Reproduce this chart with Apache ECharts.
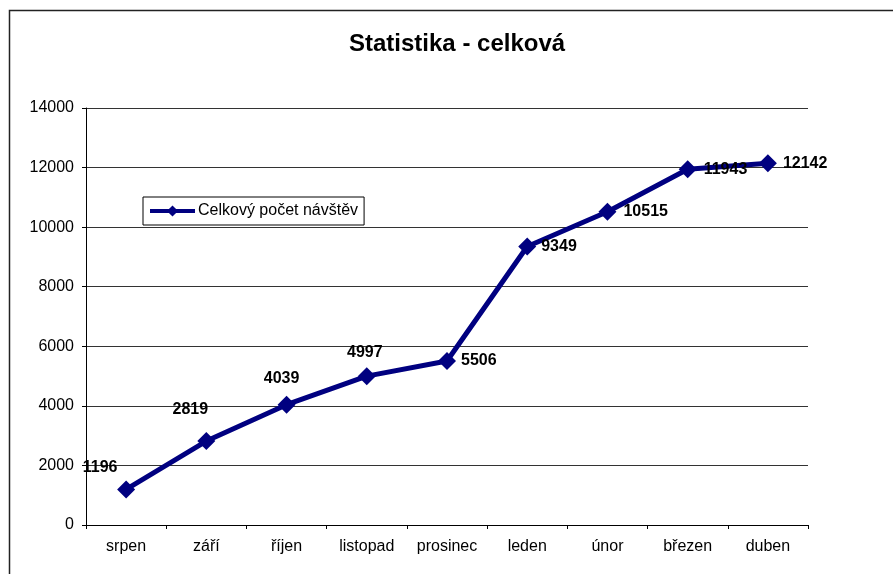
<!DOCTYPE html>
<html>
<head>
<meta charset="utf-8">
<script src="https://cdn.jsdelivr.net/npm/echarts@6/dist/echarts.min.js"></script>
<style>
html,body{margin:0;padding:0;background:#fff;}
#chart{width:893px;height:574px;}
</style>
</head>
<body>
<div id="chart"></div>
<script>
var categories = ["srpen", "září", "říjen", "listopad", "prosinec", "leden", "únor", "březen", "duben"];
var visits = [1196, 2819, 4039, 4997, 5506, 9349, 10515, 11943, 12142];
var seriesName = "Celkový počet návštěv";
var chartTitle = "Statistika - celková";

// label placement style (per point), offsets from marker centre
var SYM = 18;
var labelStyles = [
  {position: [SYM / 2 - 26, SYM / 2 - 22], align: "center", verticalAlign: "middle"},
  {position: [SYM / 2 - 16, SYM / 2 - 31], align: "center", verticalAlign: "middle"},
  {position: [SYM / 2 - 5, SYM / 2 - 26], align: "center", verticalAlign: "middle"},
  {position: [SYM / 2 - 2, SYM / 2 - 24], align: "center", verticalAlign: "middle"},
  {position: "right", distance: 5},
  {position: "right", distance: 5},
  {position: "right", distance: 7},
  {position: "right", distance: 7},
  {position: "right", distance: 6}
];

var font = '"Liberation Sans", Arial, sans-serif';
var chart = echarts.init(document.getElementById("chart"));
var data = visits.map(function (v, i) {
  return {value: v, label: labelStyles[i]};
});

chart.setOption({
  animation: false,
  backgroundColor: "#fff",
  graphic: [{
    type: "rect",
    shape: {x: 9.5, y: 10.5, width: 900, height: 600},
    style: {fill: null, stroke: "#222", lineWidth: 1.5},
    silent: true,
    z: -1
  }],
  title: {
    text: chartTitle,
    left: 344,
    top: 27,
    textStyle: {fontFamily: font, fontSize: 24, fontWeight: "bold", color: "#000"}
  },
  legend: {
    left: 143,
    top: 197,
    orient: "vertical",
    backgroundColor: "#fff",
    borderColor: "#000",
    borderWidth: 1,
    padding: [6, 6, 6, 5],
    itemWidth: 45,
    itemHeight: 14,
    itemGap: 0,
    lineStyle: {width: 4},
    textStyle: {fontFamily: font, fontSize: 16, color: "#000", padding: [0, 0, 0, -2]},
    data: [seriesName]
  },
  grid: {left: 86, right: 85, top: 108, bottom: 49},
  xAxis: {
    type: "category",
    data: categories,
    boundaryGap: true,
    axisLine: {show: true, lineStyle: {color: "#000", width: 1}},
    axisTick: {show: true, length: 4, alignWithLabel: false, lineStyle: {color: "#000"}},
    axisLabel: {fontFamily: font, fontSize: 16, color: "#000", margin: 14}
  },
  yAxis: {
    type: "value",
    min: 0,
    max: 14000,
    interval: 2000,
    axisLine: {show: true, lineStyle: {color: "#000", width: 1}},
    axisTick: {show: true, length: 4, lineStyle: {color: "#000"}},
    axisLabel: {fontFamily: font, fontSize: 16, color: "#000", margin: 12,
      formatter: function (v) { return String(v); }},
    splitLine: {show: true, lineStyle: {color: "#333", width: 1}}
  },
  series: [{
    name: seriesName,
    type: "line",
    data: data,
    symbol: "diamond",
    symbolSize: SYM,
    showAllSymbol: true,
    color: "#000080",
    lineStyle: {color: "#000080", width: 5},
    itemStyle: {color: "#000080"},
    label: {
      show: true,
      fontFamily: font,
      fontSize: 16,
      fontWeight: "bold",
      color: "#000"
    },
    labelLayout: {hideOverlap: false}
  }]
});
</script>
</body>
</html>
